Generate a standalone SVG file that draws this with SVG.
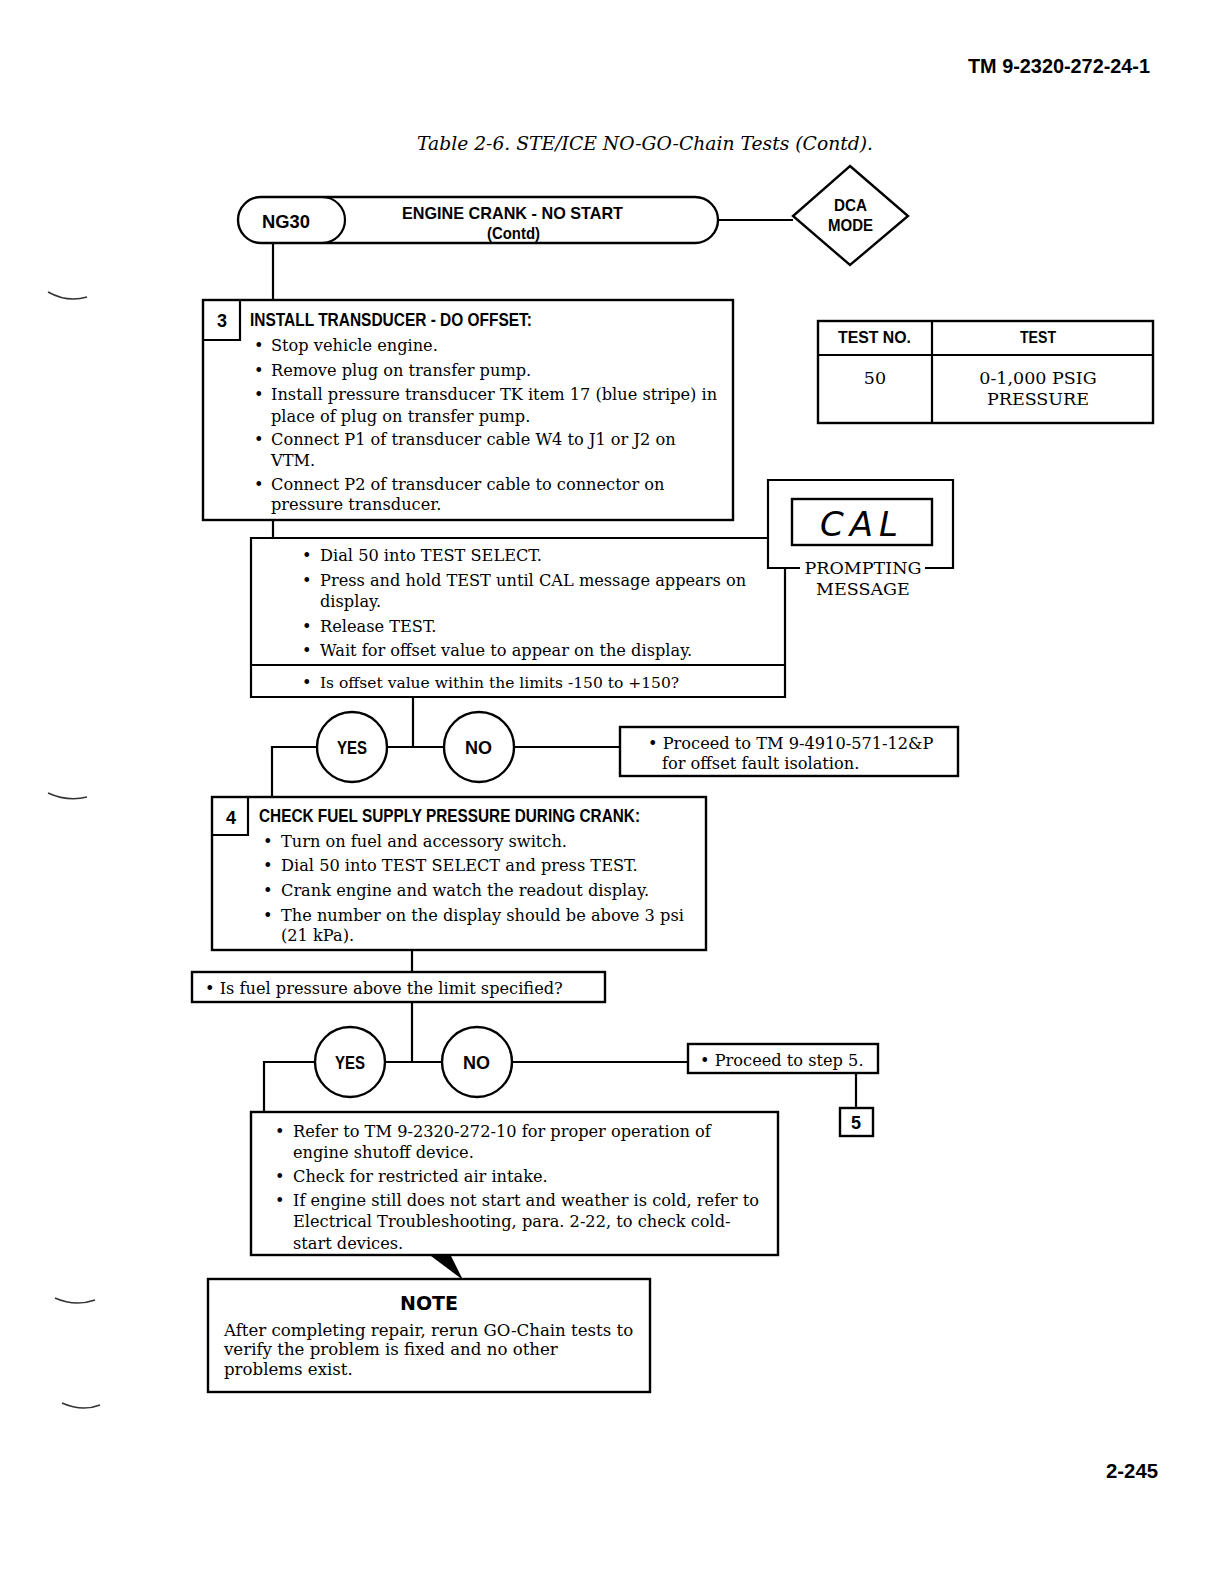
<svg xmlns="http://www.w3.org/2000/svg" width="1222" height="1574" viewBox="0 0 1222 1574">
<style>
.ln{stroke:#000;stroke-width:2.2;fill:none}
.bx{stroke:#000;stroke-width:2.4;fill:#fff}
.hd{font-family:"Liberation Sans",Arial,sans-serif;font-weight:bold;font-size:18px;fill:#000}
.tx{font-family:"DejaVu Serif","Liberation Serif",serif;font-size:16.2px;fill:#000}
.ct{text-anchor:middle}
.mg{stroke:#333;stroke-width:1.5;fill:none}
</style>
<rect width="1222" height="1574" fill="#fff"/>
<text x="968" y="73" class="hd" style="font-size:21px" textLength="182" lengthAdjust="spacingAndGlyphs">TM 9-2320-272-24-1</text>
<text x="645" y="150" class="ct" style="font-family:'DejaVu Serif','Liberation Serif',serif;font-style:italic;font-size:18.5px" textLength="456" lengthAdjust="spacingAndGlyphs">Table 2-6. STE/ICE NO-GO-Chain Tests (Contd).</text>
<g id="margin">
<path class="mg" d="M48,292 Q68,303 87,297"/>
<path class="mg" d="M48,793 Q68,802 87,797"/>
<path class="mg" d="M55,1298 Q75,1307 95,1300"/>
<path class="mg" d="M62,1403 Q82,1412 100,1405"/>
</g>
<g id="connectors">
<line class="ln" x1="718" y1="220" x2="793" y2="220"/>
<line class="ln" x1="273" y1="243" x2="273" y2="300"/>
<line class="ln" x1="273" y1="520" x2="273" y2="538"/>
<line class="ln" x1="413" y1="697" x2="413" y2="747"/>
<line class="ln" x1="387" y1="747" x2="444" y2="747"/>
<polyline class="ln" points="317,747 272,747 272,797"/>
<line class="ln" x1="514" y1="747" x2="620" y2="747"/>
<line class="ln" x1="412" y1="950" x2="412" y2="972"/>
<line class="ln" x1="412" y1="1002" x2="412" y2="1062"/>
<line class="ln" x1="385" y1="1062" x2="442" y2="1062"/>
<polyline class="ln" points="315,1062 264,1062 264,1112"/>
<line class="ln" x1="512" y1="1062" x2="688" y2="1062"/>
<line class="ln" x1="856" y1="1073" x2="856" y2="1108"/>
<polygon points="431,1256 451,1256 463,1280" fill="#000"/>
</g>
<g id="ng30">
<path class="bx" d="M261,197 H695 A23,23 0 0 1 695,243 H261 A23,23 0 0 1 261,197 Z"/>
<path class="ln" d="M322,197 A23,23 0 0 1 322,243"/>
<text x="262" y="228" class="hd" textLength="48" lengthAdjust="spacingAndGlyphs">NG30</text>
<text x="402" y="219" class="hd" style="font-size:17px" textLength="221" lengthAdjust="spacingAndGlyphs">ENGINE CRANK - NO START</text>
<text x="487" y="239" class="hd" style="font-size:16px" textLength="53" lengthAdjust="spacingAndGlyphs">(Contd)</text>
</g>
<g id="dca">
<polygon class="bx" points="850,166 908,216 850,265 793,216"/>
<text x="834" y="211" class="hd" style="font-size:17px" textLength="33" lengthAdjust="spacingAndGlyphs">DCA</text>
<text x="828" y="231" class="hd" style="font-size:17px" textLength="45" lengthAdjust="spacingAndGlyphs">MODE</text>
</g>
<g id="testtable">
<rect class="bx" x="818" y="321" width="335" height="102"/>
<line class="ln" x1="818" y1="355" x2="1153" y2="355"/>
<line class="ln" x1="932" y1="321" x2="932" y2="423"/>
<text x="838" y="343" class="hd" style="font-size:17px" textLength="73" lengthAdjust="spacingAndGlyphs">TEST NO.</text>
<text x="1020" y="343" class="hd" style="font-size:17px" textLength="36" lengthAdjust="spacingAndGlyphs">TEST</text>
<text x="875" y="384" class="tx ct" style="font-size:17.5px">50</text>
<text x="1038" y="384" class="tx ct" style="font-size:17.5px">0-1,000 PSIG</text>
<text x="1038" y="405" class="tx ct" style="font-size:17.5px">PRESSURE</text>
</g>
<g id="step3">
<rect class="bx" x="203" y="300" width="530" height="220"/>
<polyline class="ln" points="203,340 240,340 240,300"/>
<text x="222" y="327" class="hd ct">3</text>
<text x="250" y="326" class="hd" textLength="282" lengthAdjust="spacingAndGlyphs">INSTALL TRANSDUCER - DO OFFSET:</text>
<g class="tx">
<text x="254" y="351">•</text><text x="271" y="351">Stop vehicle engine.</text>
<text x="254" y="376">•</text><text x="271" y="376">Remove plug on transfer pump.</text>
<text x="254" y="400">•</text><text x="271" y="400">Install pressure transducer TK item 17 (blue stripe) in</text>
<text x="271" y="422">place of plug on transfer pump.</text>
<text x="254" y="445">•</text><text x="271" y="445">Connect P1 of transducer cable W4 to J1 or J2 on</text>
<text x="271" y="466">VTM.</text>
<text x="254" y="490">•</text><text x="271" y="490">Connect P2 of transducer cable to connector on</text>
<text x="271" y="510">pressure transducer.</text>
</g>
</g>
<g id="cal">
<polyline class="ln" points="800,568 768,568 768,480 953,480 953,568 925,568"/>
<rect class="bx" x="792" y="499" width="140" height="46"/>
<text x="862" y="536" class="ct" style="font-family:'DejaVu Sans',sans-serif;font-style:italic;font-weight:200;font-size:34px;letter-spacing:6px">CAL</text>
<text x="863" y="574" class="tx ct" style="font-size:17.5px">PROMPTING</text>
<text x="863" y="595" class="tx ct" style="font-size:17.5px">MESSAGE</text>
</g>
<g id="dial">
<polyline class="ln" points="785,568 785,697 251,697 251,538 768,538"/>
<line class="ln" x1="251" y1="665" x2="785" y2="665"/>
<g class="tx">
<text x="302" y="561">•</text><text x="320" y="561">Dial 50 into TEST SELECT.</text>
<text x="302" y="586">•</text><text x="320" y="586">Press and hold TEST until CAL message appears on</text>
<text x="320" y="607">display.</text>
<text x="302" y="632">•</text><text x="320" y="632">Release TEST.</text>
<text x="302" y="656">•</text><text x="320" y="656">Wait for offset value to appear on the display.</text>
<text x="302" y="688">•</text><text x="320" y="688" style="font-size:15.5px">Is offset value within the limits -150 to +150?</text>
</g>
</g>
<g id="yes1">
<circle class="bx" cx="352" cy="747" r="35"/>
<text x="337" y="754" class="hd" textLength="30" lengthAdjust="spacingAndGlyphs">YES</text>
</g>
<g id="no1">
<circle class="bx" cx="479" cy="747" r="35"/>
<text x="465" y="754" class="hd" textLength="27" lengthAdjust="spacingAndGlyphs">NO</text>
</g>
<g id="proceed1">
<rect class="bx" x="620" y="727" width="338" height="49"/>
<text x="648" y="749" class="tx">• Proceed to TM 9-4910-571-12&amp;P</text>
<text x="662" y="769" class="tx">for offset fault isolation.</text>
</g>
<g id="step4">
<rect class="bx" x="212" y="797" width="494" height="153"/>
<polyline class="ln" points="212,835 248,835 248,797"/>
<text x="231" y="824" class="hd ct">4</text>
<text x="259" y="822" class="hd" textLength="381" lengthAdjust="spacingAndGlyphs">CHECK FUEL SUPPLY PRESSURE DURING CRANK:</text>
<g class="tx">
<text x="263" y="847">•</text><text x="281" y="847">Turn on fuel and accessory switch.</text>
<text x="263" y="871">•</text><text x="281" y="871">Dial 50 into TEST SELECT and press TEST.</text>
<text x="263" y="896">•</text><text x="281" y="896">Crank engine and watch the readout display.</text>
<text x="263" y="921">•</text><text x="281" y="921">The number on the display should be above 3 psi</text>
<text x="281" y="941">(21 kPa).</text>
</g>
</g>
<g id="question2">
<rect class="bx" x="192" y="972" width="413" height="30"/>
<text x="205" y="994" class="tx">• Is fuel pressure above the limit specified?</text>
</g>
<g id="yes2">
<circle class="bx" cx="350" cy="1062" r="35"/>
<text x="335" y="1069" class="hd" textLength="30" lengthAdjust="spacingAndGlyphs">YES</text>
</g>
<g id="no2">
<circle class="bx" cx="477" cy="1062" r="35"/>
<text x="463" y="1069" class="hd" textLength="27" lengthAdjust="spacingAndGlyphs">NO</text>
</g>
<g id="proceed2">
<rect class="bx" x="688" y="1044" width="190" height="29"/>
<text x="700" y="1066" class="tx">• Proceed to step 5.</text>
</g>
<g id="step5">
<rect class="bx" x="840" y="1108" width="33" height="28"/>
<text x="856" y="1129" class="hd ct">5</text>
</g>
<g id="refer">
<rect class="bx" x="251" y="1112" width="527" height="143"/>
<g class="tx">
<text x="275" y="1137">•</text><text x="293" y="1137">Refer to TM 9-2320-272-10 for proper operation of</text>
<text x="293" y="1158">engine shutoff device.</text>
<text x="275" y="1182">•</text><text x="293" y="1182">Check for restricted air intake.</text>
<text x="275" y="1206">•</text><text x="293" y="1206">If engine still does not start and weather is cold, refer to</text>
<text x="293" y="1227">Electrical Troubleshooting, para. 2-22, to check cold-</text>
<text x="293" y="1249">start devices.</text>
</g>
</g>
<g id="note">
<rect class="bx" x="208" y="1279" width="442" height="113"/>
<text x="400" y="1310" style="font-family:'DejaVu Sans',sans-serif;font-weight:900;font-size:19px" textLength="58" lengthAdjust="spacingAndGlyphs">NOTE</text>
<g class="tx" style="font-size:16.6px">
<text x="224" y="1336">After completing repair, rerun GO-Chain tests to</text>
<text x="224" y="1355">verify the problem is fixed and no other</text>
<text x="224" y="1375">problems exist.</text>
</g>
</g>
<text x="1106" y="1478" class="hd" style="font-size:21px" textLength="52" lengthAdjust="spacingAndGlyphs">2-245</text>
</svg>
